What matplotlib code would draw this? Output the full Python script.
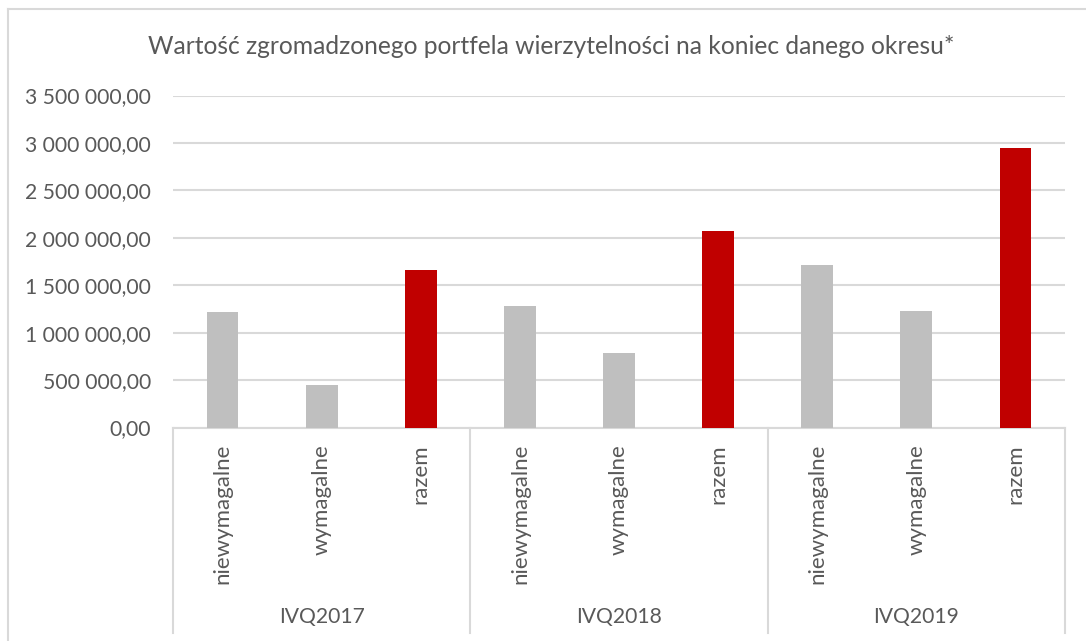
import matplotlib.pyplot as plt
import matplotlib.transforms as mtransforms
from matplotlib.lines import Line2D
from matplotlib.ticker import FuncFormatter

plt.rcParams['font.family'] = ['Lato', 'DejaVu Sans']

# data
groups = ["IVQ2017", "IVQ2018", "IVQ2019"]
categories = ["niewymagalne", "wymagalne", "razem"]
niewymagalne = [1217000, 1281000, 1713000]
wymagalne = [448000, 785000, 1228000]
razem = [1660000, 2071000, 2946000]

TXT = "#595959"
GRID = "#d9d9d9"
GREY = "#bfbfbf"
RED = "#c00000"

W, H = 1086, 641
fig = plt.figure(figsize=(W / 100, H / 100), dpi=100)
ax = fig.add_axes([173 / W, 1 - 427.5 / H, (1065 - 173) / W, (427.5 - 95.5) / H])

values = []
colors = []
labels = []
for i in range(len(groups)):
    values += [niewymagalne[i], wymagalne[i], razem[i]]
    colors += [GREY, GREY, RED]
    labels += categories
x = list(range(len(values)))
ax.bar(x, values, width=0.32, color=colors, zorder=3)

ax.set_xlim(-0.5, len(values) - 0.5)
ax.set_ylim(0, 3500000)
ax.set_yticks(range(0, 3500001, 500000))
ax.yaxis.set_major_formatter(FuncFormatter(
    lambda v, p: f"{v:,.2f}".replace(",", " ").replace(".", ",")))
ax.tick_params(axis='y', length=0, pad=16, labelsize=15.2, labelcolor=TXT)
ax.set_xticks([])
ax.grid(axis='y', color=GRID, linewidth=1.5, zorder=0)
for s in ['top', 'right', 'left']:
    ax.spines[s].set_visible(False)
ax.spines['bottom'].set_color(GRID)
ax.spines['bottom'].set_linewidth(1.5)

trans = mtransforms.blended_transform_factory(ax.transData, ax.transAxes)
y_bottom = -(633 - 427.5) / (427.5 - 95.5)
for sep in [-0.5, 2.5, 5.5, 8.5]:
    ax.add_line(Line2D([sep, sep], [0, y_bottom], transform=trans,
                       color=GRID, linewidth=1.5, clip_on=False))
y_cat = -(444 - 427.5) / (427.5 - 95.5)
for xi, lab in zip(x, labels):
    ax.text(xi, y_cat, lab, transform=trans, rotation=90, ha='center', va='top',
            fontsize=16, color=TXT)
y_grp = -(617 - 427.5) / (427.5 - 95.5)
for gi, g in enumerate(groups):
    ax.text(gi * 3 + 1, y_grp, g, transform=trans, ha='center', va='center',
            fontsize=15.2, color=TXT)

fig.text(551 / W, 1 - 47 / H, "Wartość zgromadzonego portfela wierzytelności na koniec danego okresu*",
         ha='center', va='center', fontsize=17.7, color=TXT)

# outer chart border
fig.add_artist(Line2D([7.5 / W, 7.5 / W], [0, 1 - 9 / H], transform=fig.transFigure,
                      color=GRID, linewidth=1.5))
fig.add_artist(Line2D([7.5 / W, 1], [1 - 9 / H, 1 - 9 / H], transform=fig.transFigure,
                      color=GRID, linewidth=1.5))

fig.savefig("out.png", dpi=100)
